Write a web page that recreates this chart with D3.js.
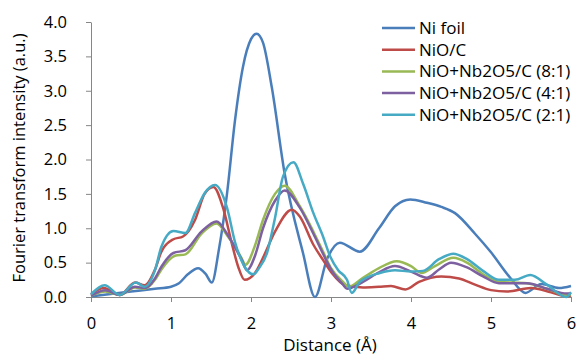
<!DOCTYPE html>
<html>
<head>
<meta charset="utf-8">
<script src="https://cdn.jsdelivr.net/npm/d3@7"></script>
<style>
  body { margin: 0; background: #fff; }
  svg { font-family: "Open Sans", sans-serif; }
</style>
</head>
<body>
<div id="container"></div>
<script>
// CONSTANTS AND GLOBALS
const width = 579,
  height = 356,
  margin = { top: 22, bottom: 59, left: 91, right: 8 };

// DATA
const seriesNames = ["Ni foil", "NiO/C", "NiO+Nb2O5/C (8:1)", "NiO+Nb2O5/C (4:1)", "NiO+Nb2O5/C (2:1)"];
const seriesColors = ["#4a7ebb", "#be4b48", "#98b954", "#7d60a0", "#46aac5"];

const xTicks = [0, 1, 2, 3, 4, 5, 6];
const yTicks = [0, 0.5, 1, 1.5, 2, 2.5, 3, 3.5, 4];

const niFoilX = [0, 0.5, 0.8, 1.0, 1.1, 1.21, 1.34, 1.43, 1.51, 1.6, 1.7, 1.8, 1.9, 2.0, 2.07, 2.15, 2.26, 2.42, 2.65, 2.8, 2.95, 3.11, 3.36, 3.6, 3.8, 3.99, 4.2, 4.38, 4.55, 4.8, 5.0, 5.24, 5.43, 5.63, 5.85, 6.0];
const niFoil  = [0.01, 0.08, 0.12, 0.15, 0.2, 0.33, 0.42, 0.34, 0.21, 0.7, 1.5, 2.57, 3.35, 3.75, 3.83, 3.7, 3.05, 1.8, 0.64, 0.0, 0.55, 0.79, 0.66, 1.0, 1.32, 1.42, 1.37, 1.31, 1.22, 0.92, 0.65, 0.28, 0.06, 0.19, 0.13, 0.16];

const nioX = [0, 0.16, 0.36, 0.55, 0.67, 0.8, 0.88, 1.03, 1.15, 1.3, 1.42, 1.53, 1.65, 1.76, 1.84, 1.92, 2.05, 2.15, 2.3, 2.51, 2.61, 2.78, 2.9, 3.01, 3.18, 3.4, 3.6, 3.75, 3.93, 4.1, 4.38, 4.6, 4.8, 5.0, 5.2, 5.5, 5.75, 5.95, 6.0];
const nio  = [0.04, 0.13, 0.03, 0.21, 0.17, 0.4, 0.66, 0.84, 0.88, 1.12, 1.5, 1.6, 1.3, 0.78, 0.44, 0.25, 0.35, 0.57, 0.95, 1.27, 1.17, 0.76, 0.54, 0.35, 0.17, 0.14, 0.15, 0.16, 0.11, 0.22, 0.3, 0.27, 0.18, 0.1, 0.08, 0.13, 0.07, 0.01, 0.02];

const r81X = [0, 0.18, 0.36, 0.55, 0.67, 0.8, 0.88, 1.05, 1.18, 1.38, 1.57, 1.7, 1.8, 1.88, 1.93, 2.05, 2.15, 2.3, 2.42, 2.61, 2.78, 2.9, 3.0, 3.15, 3.22, 3.4, 3.6, 3.82, 4.0, 4.13, 4.3, 4.53, 4.7, 4.9, 5.1, 5.45, 5.7, 5.95, 6.0];
const r81  = [0.02, 0.08, 0.03, 0.14, 0.12, 0.25, 0.4, 0.6, 0.62, 0.92, 1.07, 0.9, 0.73, 0.57, 0.47, 0.75, 1.12, 1.5, 1.62, 1.32, 0.95, 0.66, 0.42, 0.22, 0.15, 0.28, 0.42, 0.52, 0.45, 0.35, 0.45, 0.57, 0.5, 0.33, 0.22, 0.2, 0.12, 0.03, 0.04];

const r41X = [0, 0.18, 0.36, 0.55, 0.67, 0.8, 0.88, 1.03, 1.18, 1.38, 1.57, 1.7, 1.8, 1.88, 1.95, 2.05, 2.15, 2.3, 2.42, 2.61, 2.78, 2.9, 3.0, 3.15, 3.2, 3.4, 3.6, 3.8, 4.0, 4.2, 4.35, 4.5, 4.7, 4.9, 5.1, 5.45, 5.7, 5.95, 6.0];
const r41  = [0.02, 0.1, 0.03, 0.15, 0.13, 0.27, 0.44, 0.64, 0.68, 0.95, 1.1, 0.92, 0.72, 0.55, 0.39, 0.6, 1.0, 1.4, 1.55, 1.3, 0.92, 0.63, 0.4, 0.18, 0.12, 0.22, 0.36, 0.45, 0.37, 0.28, 0.4, 0.5, 0.43, 0.3, 0.2, 0.2, 0.12, 0.05, 0.06];

const r21X = [0, 0.17, 0.36, 0.56, 0.67, 0.8, 0.88, 1.03, 1.18, 1.3, 1.42, 1.55, 1.7, 1.8, 1.92, 2.03, 2.1, 2.2, 2.3, 2.4, 2.53, 2.65, 2.78, 2.9, 2.99, 3.09, 3.2, 3.26, 3.36, 3.61, 3.8, 4.0, 4.15, 4.35, 4.53, 4.7, 4.9, 5.1, 5.3, 5.49, 5.7, 5.94, 6.0];
const r21  = [0.04, 0.17, 0.03, 0.21, 0.15, 0.39, 0.73, 0.96, 0.93, 1.22, 1.51, 1.63, 1.3, 0.8, 0.44, 0.33, 0.42, 0.64, 1.15, 1.75, 1.96, 1.65, 1.22, 0.88, 0.59, 0.39, 0.25, 0.06, 0.22, 0.35, 0.39, 0.37, 0.38, 0.55, 0.63, 0.55, 0.38, 0.25, 0.25, 0.32, 0.18, 0.0, 0.07];

const seriesX = [niFoilX, nioX, r81X, r41X, r21X];
const seriesY = [niFoil, nio, r81, r41, r21];

// SCALES
const xScale = d3.scaleLinear()
  .domain([0, 6])
  .range([margin.left, width - margin.right]);

const yScale = d3.scaleLinear()
  .domain([0, 4])
  .range([height - margin.bottom, margin.top]);

// CREATE SVG ELEMENT
const svg = d3.select("#container")
  .append("svg")
  .attr("width", width)
  .attr("height", height);

// AXES
const axisColor = "#868686";

const xAxis = d3.axisBottom(xScale)
  .tickValues(xTicks)
  .tickFormat(d3.format("d"))
  .tickSize(5)
  .tickSizeOuter(0)
  .tickPadding(15);

const xAxisGroup = svg.append("g")
  .attr("transform", `translate(0, ${height - margin.bottom})`)
  .call(xAxis);

const yAxis = d3.axisLeft(yScale)
  .tickValues(yTicks)
  .tickFormat(d3.format(".1f"))
  .tickSize(5)
  .tickSizeOuter(0)
  .tickPadding(19);

const yAxisGroup = svg.append("g")
  .attr("transform", `translate(${margin.left}, 0)`)
  .call(yAxis);

[xAxisGroup, yAxisGroup].forEach(g => {
  g.select(".domain").attr("stroke", axisColor).attr("stroke-width", 1);
  g.selectAll(".tick line").attr("stroke", axisColor);
  g.selectAll(".tick text")
    .attr("fill", "#000")
    .style("font-family", "'Open Sans', sans-serif")
    .style("font-size", "16.5px");
});

// AXIS TITLES
svg.append("text")
  .attr("x", (margin.left + width - margin.right) / 2 - 1)
  .attr("y", 351)
  .attr("text-anchor", "middle")
  .style("font-size", "17px")
  .text("Distance (Å)");

svg.append("text")
  .attr("transform", `translate(25, 158) rotate(-90)`)
  .attr("text-anchor", "middle")
  .style("font-size", "16.5px")
  .text("Fourier transform intensity (a.u.)");

// LINES
const line = d3.line()
  .x(d => xScale(d[0]))
  .y(d => yScale(d[1]))
  .curve(d3.curveMonotoneX);

seriesNames.forEach((name, i) => {
  const pts = seriesX[i].map((x, j) => [x, seriesY[i][j]]);
  svg.append("path")
    .datum(pts)
    .attr("fill", "none")
    .attr("stroke", seriesColors[i])
    .attr("stroke-width", 2.5)
    .attr("d", line);
});

// LEGEND
const legend = svg.append("g")
  .attr("transform", "translate(382, 28)");

seriesNames.forEach((name, i) => {
  const row = legend.append("g")
    .attr("transform", `translate(0, ${i * 21.7})`);
  row.append("line")
    .attr("x1", 0)
    .attr("x2", 33)
    .attr("stroke", seriesColors[i])
    .attr("stroke-width", 2.5);
  row.append("text")
    .attr("x", 37)
    .attr("dy", "0.35em")
    .style("font-size", "17px")
    .text(name);
});
</script>
</body>
</html>
